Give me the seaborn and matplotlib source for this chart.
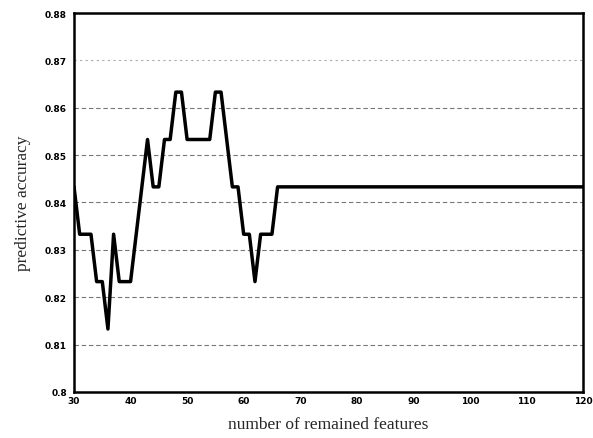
import matplotlib
matplotlib.use("Agg")
import matplotlib.pyplot as plt
import seaborn as sns
import pandas as pd

# data
features = [30, 31, 32, 33, 34, 35, 36, 37, 38, 39, 40, 41, 42, 43, 44, 45, 46, 47, 48, 49,
            50, 51, 52, 53, 54, 55, 56, 57, 58, 59, 60, 61, 62, 63, 64, 65, 66, 120]
accuracy = [0.8433, 0.8333, 0.8333, 0.8333, 0.8233, 0.8233, 0.8133, 0.8333, 0.8233, 0.8233,
            0.8233, 0.8333, 0.8433, 0.8533, 0.8433, 0.8433, 0.8533, 0.8533, 0.8633, 0.8633,
            0.8533, 0.8533, 0.8533, 0.8533, 0.8533, 0.8633, 0.8633, 0.8533, 0.8433, 0.8433,
            0.8333, 0.8333, 0.8233, 0.8333, 0.8333, 0.8333, 0.8433, 0.8433]
x_ticks = [30, 40, 50, 60, 70, 80, 90, 100, 110, 120]
x_tick_labels = ["30", "40", "50", "60", "70", "80", "90", "100", "110", "120"]
y_ticks = [0.80, 0.81, 0.82, 0.83, 0.84, 0.85, 0.86, 0.87, 0.88]
y_tick_labels = ["0.8", "0.81", "0.82", "0.83", "0.84", "0.85", "0.86", "0.87", "0.88"]

df = pd.DataFrame({"features": features, "accuracy": accuracy})

sns.set_style("white")
fig = plt.figure(figsize=(5.93, 4.39), dpi=100)
ax = fig.add_axes([0.1248, 0.1048, 0.8583, 0.8633])

for yv in y_ticks[1:-1]:
    if abs(yv - 0.87) < 1e-9:
        ax.axhline(yv, color="#aaaaaa", linestyle=(0, (2, 3)), linewidth=0.8, zorder=1)
    else:
        ax.axhline(yv, color="#777777", linestyle=(0, (4, 2.5)), linewidth=0.8, zorder=1)

sns.lineplot(data=df, x="features", y="accuracy", ax=ax, color="black",
             linewidth=2.5, zorder=3, estimator=None)

ax.set_xlim(30, 120)
ax.set_ylim(0.80, 0.88)
ax.set_xticks(x_ticks)
ax.set_xticklabels(x_tick_labels, fontsize=6.5, fontweight="bold", family="DejaVu Sans")
ax.set_yticks(y_ticks)
ax.set_yticklabels(y_tick_labels, fontsize=6.5, fontweight="bold", family="DejaVu Sans")
ax.tick_params(axis="x", direction="in", length=3, width=1, pad=3, colors="black")
ax.tick_params(axis="y", direction="out", length=3, width=1, pad=2, colors="black")

for sp in ax.spines.values():
    sp.set_visible(True)
    sp.set_color("black")
    sp.set_linewidth(1.8)

ax.set_xlabel("number of remained features", family="Liberation Serif", fontsize=12.5, labelpad=8)
ax.set_ylabel("predictive accuracy", family="Liberation Serif", fontsize=12.5, labelpad=10)

fig.savefig("out.png", dpi=100)
